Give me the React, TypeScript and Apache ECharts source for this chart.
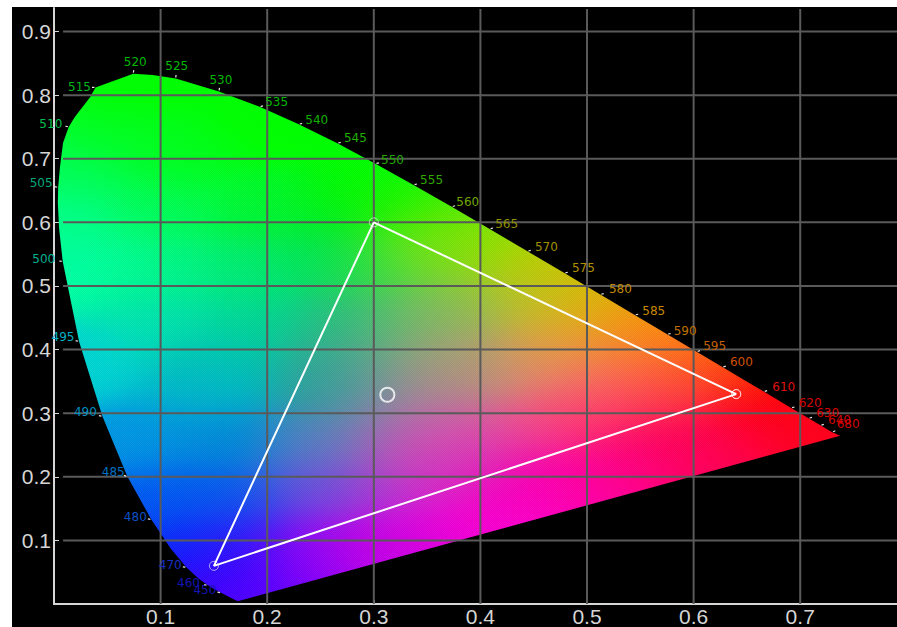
import React, { useEffect, useRef } from "react";
import * as echarts from "echarts";

const LOCUS_NM = [380, 400, 410, 420, 430, 440, 450, 455, 460, 465, 470, 475, 480, 485, 490, 495, 500, 502, 503, 505, 507, 508, 510, 512, 513, 515, 520, 522, 525, 530, 535, 540, 545, 550, 555, 560, 565, 570, 575, 580, 585, 590, 595, 600, 605, 610, 620, 630, 640, 650, 660, 680];
const LOCUS_X = [0.1741, 0.1733, 0.1726, 0.1714, 0.1689, 0.1644, 0.1566, 0.151, 0.144, 0.1355, 0.1241, 0.1096, 0.0913, 0.0687, 0.0454, 0.0235, 0.0082, 0.0048, 0.0036, 0.0039, 0.0056, 0.0085, 0.0139, 0.0197, 0.034, 0.0389, 0.0743, 0.0926, 0.1142, 0.1547, 0.1929, 0.2296, 0.2658, 0.3016, 0.3373, 0.3731, 0.4087, 0.4441, 0.4788, 0.5125, 0.5448, 0.5752, 0.6029, 0.627, 0.6482, 0.6658, 0.6915, 0.7079, 0.719, 0.726, 0.73, 0.7375];
const LOCUS_Y = [0.005, 0.0048, 0.0048, 0.0051, 0.0069, 0.0109, 0.0177, 0.0227, 0.0297, 0.0399, 0.0578, 0.0868, 0.1327, 0.2007, 0.295, 0.4127, 0.5384, 0.59, 0.63, 0.6548, 0.687, 0.725, 0.7502, 0.766, 0.797, 0.812, 0.8338, 0.8315, 0.8262, 0.8059, 0.7816, 0.7543, 0.7243, 0.6923, 0.6589, 0.6245, 0.5896, 0.5547, 0.5202, 0.4866, 0.4544, 0.4242, 0.3965, 0.3725, 0.3514, 0.334, 0.3083, 0.292, 0.2809, 0.274, 0.27, 0.2645];

const LABEL_TEXT = ["450", "460", "470", "480", "485", "490", "495", "500", "505", "510", "515", "520", "525", "530", "535", "540", "545", "550", "555", "560", "565", "570", "575", "580", "585", "590", "595", "600", "610", "620", "630", "640", "680"];
const LABEL_AT = [450, 460, 470, 480, 485, 490, 495, 500, 505, 510, 515, 520, 525, 530, 535, 540, 545, 550, 555, 560, 565, 570, 575, 580, 585, 590, 595, 600, 610, 620, 630, 640, 660];
const LABEL_DX = [-16, -19, -16, -16, -14, -17, -16, -19, -17, -18, -16, 2, 1, 2, 17, 18, 18, 17, 18, 16, 17, 19, 19, 20, 19, 18, 18, 19, 20, 19, 19, 19, 16];
const LABEL_DY = [-3, -2, -2, -3, -4, -4, -4, -3, -4, -3, -1, -12, -12, -11, -5, -4, -5, -4, -5, -5, -5, -4, -5, -5, -4, -3, -6, -5, -5, -5, -5, -5, -8];
const LABEL_COLORS = ["#1414b4", "#1414b4", "#1830c0", "#0c50c8", "#0070c0", "#0090c0", "#00b0c0", "#00b090", "#00a878", "#00c050", "#00b820", "#00b800", "#00b800", "#00b800", "#00b800", "#10b000", "#20b000", "#20a800", "#30a800", "#70a800", "#909000", "#a09000", "#b09000", "#c08800", "#c88800", "#c07000", "#c06000", "#d05000", "#e01010", "#d80000", "#d80000", "#d80000", "#d80000"];

const X_TICKS = [0.1, 0.2, 0.3, 0.4, 0.5, 0.6, 0.7];
const Y_TICKS = [0.1, 0.2, 0.3, 0.4, 0.5, 0.6, 0.7, 0.8, 0.9];
const X_MAX = 0.7908;
const Y_MAX = 0.937;
const GRID_X_START = 0.0085;

const GAMUT_X = [0.64, 0.3, 0.15, 0.64];
const GAMUT_Y = [0.33, 0.6, 0.06, 0.33];
const WHITE_POINT = [0.3127, 0.329];

// Colour swatches: x, y, r, g, b
const SWATCHES: number[][] = [
  [0.08, 0.82, 0, 255, 0], [0.2, 0.75, 0, 255, 0], [0.3, 0.68, 0, 255, 0], [0.05, 0.74, 0, 255, 30], [0.12, 0.7, 0, 255, 30],
  [0.02, 0.68, 0, 255, 90], [0.1, 0.62, 0, 250, 90], [0.2, 0.62, 0, 245, 50], [0.27, 0.62, 0, 240, 20], [0.32, 0.63, 20, 245, 0],
  [0.01, 0.6, 0, 255, 140], [0.35, 0.62, 60, 240, 0], [0.025, 0.525, 0, 255, 165], [0.094, 0.525, 0, 245, 135], [0.188, 0.525, 0, 235, 115],
  [0.25, 0.545, 0, 225, 85], [0.3, 0.53, 40, 222, 70], [0.343, 0.545, 110, 220, 50], [0.37, 0.567, 140, 225, 0], [0.094, 0.446, 0, 225, 175],
  [0.188, 0.446, 0, 215, 150], [0.265, 0.446, 30, 190, 130], [0.313, 0.446, 80, 190, 110], [0.36, 0.446, 150, 180, 100], [0.03, 0.38, 0, 210, 210],
  [0.156, 0.38, 0, 195, 175], [0.265, 0.38, 50, 165, 150], [0.312, 0.384, 120, 165, 130], [0.37, 0.38, 170, 150, 120], [0.14, 0.336, 0, 180, 205],
  [0.265, 0.34, 30, 160, 155], [0.313, 0.33, 150, 135, 165], [0.36, 0.33, 175, 125, 150], [0.078, 0.258, 0, 150, 225], [0.157, 0.258, 0, 135, 215],
  [0.25, 0.258, 80, 130, 190], [0.312, 0.258, 150, 110, 180], [0.36, 0.258, 220, 80, 170], [0.094, 0.164, 0, 90, 240], [0.157, 0.164, 10, 90, 235],
  [0.25, 0.18, 100, 80, 220], [0.312, 0.18, 170, 60, 210], [0.36, 0.21, 225, 50, 190], [0.125, 0.09, 0, 40, 250], [0.17, 0.09, 60, 20, 250],
  [0.25, 0.09, 150, 10, 240], [0.312, 0.09, 210, 0, 225], [0.36, 0.12, 240, 0, 215], [0.157, 0.038, 50, 0, 255], [0.172, 0.012, 90, 0, 255],
  [0.235, 0.048, 130, 0, 250], [0.312, 0.07, 190, 0, 230], [0.378, 0.583, 130, 225, 0], [0.425, 0.54, 170, 215, 0], [0.472, 0.52, 200, 195, 0],
  [0.503, 0.478, 225, 175, 10], [0.55, 0.436, 245, 150, 10], [0.587, 0.41, 255, 125, 10], [0.628, 0.363, 255, 60, 0], [0.674, 0.316, 255, 0, 0],
  [0.728, 0.269, 255, 0, 30], [0.378, 0.478, 130, 190, 80], [0.44, 0.478, 190, 190, 50], [0.472, 0.41, 225, 165, 50], [0.534, 0.384, 245, 130, 70],
  [0.58, 0.352, 255, 90, 50], [0.378, 0.373, 170, 160, 115], [0.44, 0.367, 220, 140, 110], [0.503, 0.341, 245, 110, 110], [0.566, 0.332, 255, 60, 90],
  [0.378, 0.269, 210, 90, 170], [0.44, 0.278, 240, 80, 140], [0.503, 0.294, 255, 40, 110], [0.58, 0.278, 255, 0, 90], [0.66, 0.278, 255, 0, 50],
  [0.378, 0.215, 200, 40, 200], [0.44, 0.21, 245, 0, 170], [0.534, 0.215, 255, 0, 130], [0.612, 0.237, 255, 0, 90], [0.425, 0.163, 250, 0, 195],
  [0.487, 0.175, 255, 0, 170], [0.42, 0.12, 245, 0, 210],
];

function blend(x: number, y: number): [number, number, number] {
  let sw = 1e-12;
  let r = 128e-12;
  let g = 128e-12;
  let b = 128e-12;
  const s2 = 2 * 0.038 * 0.038;
  for (let i = 0; i < SWATCHES.length; i++) {
    const a = SWATCHES[i];
    const dx = x - a[0];
    const dy = y - a[1];
    const w = Math.exp(-(dx * dx + dy * dy) / s2);
    sw += w;
    r += w * a[2];
    g += w * a[3];
    b += w * a[4];
  }
  return [r / sw, g / sw, b / sw];
}

let fieldCache: { key: string; url: string } | null = null;

function buildField(x0: number, y0: number, w: number, h: number, pts: number[][]): string {
  const key = [x0, y0, w, h].join();
  if (fieldCache && fieldCache.key === key) return fieldCache.url;
  const step = 3;
  const cw = Math.ceil(w / step);
  const ch = Math.ceil(h / step);
  const small = document.createElement("canvas");
  small.width = cw;
  small.height = ch;
  const sctx = small.getContext("2d")!;
  const simg = sctx.createImageData(cw, ch);
  for (let j = 0; j < ch; j++) {
    const yv = ((h - (j + 0.5) * step) / h) * Y_MAX;
    for (let i = 0; i < cw; i++) {
      const xv = (((i + 0.5) * step) / w) * X_MAX;
      const c = blend(xv, yv);
      const o = (j * cw + i) * 4;
      simg.data[o] = c[0];
      simg.data[o + 1] = c[1];
      simg.data[o + 2] = c[2];
      simg.data[o + 3] = 255;
    }
  }
  sctx.putImageData(simg, 0, 0);
  const cv = document.createElement("canvas");
  cv.width = w;
  cv.height = h;
  const ctx = cv.getContext("2d")!;
  ctx.imageSmoothingEnabled = true;
  ctx.imageSmoothingQuality = "high";
  ctx.drawImage(small, 0, 0, cw * step, ch * step);
  const img = ctx.getImageData(0, 0, w, h);
  for (let j = 0; j < h; j++) {
    for (let i = 0; i < w; i++) {
      const d = (i + j) % 2 === 0 ? 4 : -4;
      const o = (j * w + i) * 4;
      img.data[o] += d;
      img.data[o + 1] += d;
      img.data[o + 2] += d;
    }
  }
  ctx.putImageData(img, 0, 0);
  ctx.globalCompositeOperation = "destination-in";
  ctx.beginPath();
  pts.forEach((p, i) => {
    if (i === 0) ctx.moveTo(p[0] - x0, p[1] - y0);
    else ctx.lineTo(p[0] - x0, p[1] - y0);
  });
  ctx.closePath();
  ctx.fillStyle = "#000";
  ctx.fill();
  const url = cv.toDataURL("image/png");
  fieldCache = { key, url };
  return url;
}

export default function App() {
  const ref = useRef<HTMLDivElement>(null);
  useEffect(() => {
    const chart = echarts.init(ref.current!, undefined, { renderer: "svg" });
    const axisColor = "#d6d6d6";
    const gridColor = "#5a5a5a";
    const labelIdx = LABEL_AT.map((nm) => LOCUS_NM.indexOf(nm));
    chart.setOption({
      animation: false,
      backgroundColor: "#000",
      grid: { left: 42, top: 1, right: 0, bottom: 23 },
      xAxis: {
        type: "value",
        min: 0,
        max: X_MAX,
        interval: 0.1,
        splitLine: { show: false },
        axisLine: { onZero: false, lineStyle: { color: axisColor, width: 2 } },
        axisTick: { inside: true, length: 4, customValues: X_TICKS, lineStyle: { color: axisColor, width: 1 } },
        axisLabel: {
          customValues: X_TICKS,
          formatter: (v: number) => v.toFixed(1),
          color: "#d6d6d6",
          fontFamily: "Liberation Sans",
          fontSize: 21,
          margin: 2,
        },
      },
      yAxis: {
        type: "value",
        min: 0,
        max: Y_MAX,
        interval: 0.1,
        splitLine: { show: false },
        axisLine: { onZero: false, lineStyle: { color: axisColor, width: 2 } },
        axisTick: { inside: true, length: 5, customValues: Y_TICKS, lineStyle: { color: axisColor, width: 1 } },
        axisLabel: {
          customValues: Y_TICKS,
          formatter: (v: number) => v.toFixed(1),
          color: "#d6d6d6",
          fontFamily: "Liberation Sans",
          fontSize: 21,
          margin: 3,
          padding: [0, 0, 7, 0],
        },
      },
      series: [
        {
          type: "custom",
          coordinateSystem: "cartesian2d",
          silent: true,
          clip: false,
          z: 1,
          data: [[0, 0]],
          renderItem: (_p: any, api: any) => {
            const a = api.coord([0, Y_MAX]);
            const b = api.coord([X_MAX, 0]);
            const w = Math.round(b[0] - a[0]);
            const h = Math.round(b[1] - a[1]);
            const pts = LOCUS_X.map((x, i) => api.coord([x, LOCUS_Y[i]]));
            return {
              type: "image",
              style: { image: buildField(a[0], a[1], w, h, pts), x: a[0], y: a[1], width: w, height: h },
            };
          },
        },
        {
          type: "custom",
          coordinateSystem: "cartesian2d",
          silent: true,
          z: 2,
          data: [[0, 0]],
          renderItem: (_p: any, api: any) => {
            const children: any[] = [];
            X_TICKS.forEach((t) => {
              const a = api.coord([t, 0]);
              const b = api.coord([t, Y_MAX]);
              children.push({
                type: "line",
                shape: { x1: a[0], y1: a[1], x2: b[0], y2: b[1] + 1 },
                style: { stroke: gridColor, lineWidth: 2 },
              });
            });
            Y_TICKS.forEach((t) => {
              const a = api.coord([GRID_X_START, t]);
              const b = api.coord([X_MAX, t]);
              children.push({
                type: "line",
                shape: { x1: a[0], y1: a[1], x2: b[0], y2: b[1] },
                style: { stroke: gridColor, lineWidth: 2 },
              });
            });
            return { type: "group", children };
          },
        },
        {
          type: "line",
          z: 3,
          silent: true,
          data: GAMUT_X.map((x, i) => [x, GAMUT_Y[i]]),
          symbol: "circle",
          symbolSize: 9,
          showSymbol: true,
          lineStyle: { color: "#fff", width: 2 },
          itemStyle: { color: "rgba(0,0,0,0)", borderColor: "rgba(255,255,255,0.6)", borderWidth: 1 },
        },
        {
          type: "scatter",
          z: 3,
          silent: true,
          data: [WHITE_POINT],
          symbol: "circle",
          symbolSize: 14,
          itemStyle: { color: "rgba(0,0,0,0)", borderColor: "#fff", borderWidth: 2 },
        },
        {
          type: "custom",
          coordinateSystem: "cartesian2d",
          silent: true,
          clip: false,
          z: 4,
          data: LABEL_TEXT.map((_t, i) => [LOCUS_X[labelIdx[i]], LOCUS_Y[labelIdx[i]], i]),
          encode: { x: 0, y: 1 },
          renderItem: (_p: any, api: any) => {
            const p = api.coord([api.value(0), api.value(1)]);
            const i = api.value(2);
            const dx = LABEL_DX[i];
            const dy = LABEL_DY[i];
            const len = Math.hypot(dx, dy) || 1;
            const ux = dx / len;
            const uy = dy / len;
            return {
              type: "group",
              children: [
                {
                  type: "line",
                  shape: { x1: p[0] + ux, y1: p[1] + uy, x2: p[0] + ux * 3.5, y2: p[1] + uy * 3.5 },
                  style: { stroke: "#e8e8e8", lineWidth: 1.2 },
                },
                {
                  type: "text",
                  style: {
                    x: p[0] + dx,
                    y: p[1] + dy,
                    text: LABEL_TEXT[i],
                    fill: LABEL_COLORS[i],
                    font: "12px 'DejaVu Sans'",
                    align: "center",
                    verticalAlign: "middle",
                  },
                },
              ],
            };
          },
        },
      ],
    });
    return () => chart.dispose();
  }, []);
  return (
    <div style={{ position: "fixed", left: 0, top: 0, width: 897, height: 627, background: "#fff", overflow: "hidden" }}>
      <div ref={ref} style={{ position: "absolute", left: 12, top: 7, width: 885, height: 620 }} />
    </div>
  );
}
